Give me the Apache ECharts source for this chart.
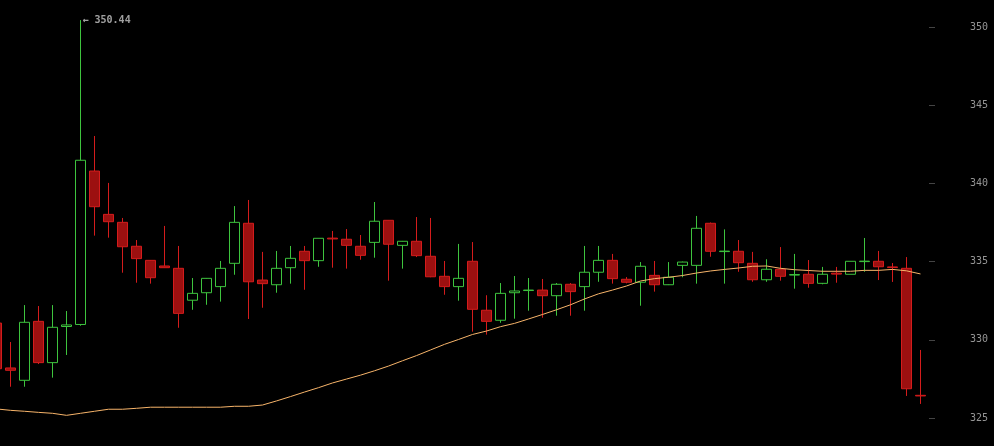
<!DOCTYPE html>
<html>
<head>
<meta charset="utf-8">
<script src="https://cdn.jsdelivr.net/npm/echarts@6/dist/echarts.min.js"></script>
<style>
html,body{margin:0;padding:0;background:#000;overflow:hidden;width:994px;height:446px;}
#wrap{position:absolute;left:0;top:0;width:994px;height:446px;overflow:hidden;}
#chart{position:absolute;left:-11px;top:0;width:1005px;height:446px;}
</style>
</head>
<body>
<div id="wrap"><div id="chart"></div></div>
<script>
// Candle values (one per period)
const openVals  = [331.07,328.20,327.41,331.18,328.54,330.85,330.98,340.79,338.02,337.51,335.98,335.08,334.72,334.57,332.53,333.01,333.40,334.89,337.45,333.82,333.52,334.61,335.66,335.06,336.50,336.43,335.98,336.23,337.64,336.04,336.30,335.34,334.06,333.40,335.02,331.89,331.25,333.01,333.15,333.18,332.82,333.55,333.40,334.32,335.08,333.87,333.68,334.12,333.52,334.76,334.76,337.45,335.64,335.66,334.89,333.84,334.51,334.14,334.19,333.61,334.26,334.19,335.00,335.02,334.66,334.57,326.45];
const closeVals = [328.15,328.05,331.12,328.54,330.80,330.95,341.48,338.51,337.55,335.95,335.19,333.97,334.61,331.69,332.97,333.93,334.57,337.51,333.71,333.59,334.57,335.21,335.06,336.49,336.45,336.04,335.40,337.58,336.11,336.30,335.38,334.03,333.40,333.93,331.95,331.18,332.97,333.12,333.18,332.82,333.55,333.08,334.32,335.08,333.91,333.68,334.70,333.52,334.00,334.97,337.13,335.66,335.67,334.93,333.84,334.51,334.06,334.17,333.61,334.19,334.20,335.02,335.03,334.67,334.62,326.87,326.41];
const lowVals   = [327.80,327.00,327.00,328.45,327.58,329.03,330.90,336.66,336.53,334.29,333.65,333.59,334.60,330.77,331.92,332.24,332.44,334.16,331.33,332.05,333.01,333.59,333.20,334.67,334.61,334.55,335.12,335.25,333.78,334.55,335.29,334.00,332.88,332.50,330.52,330.33,331.09,331.35,331.86,331.41,331.54,331.54,331.86,333.71,333.59,333.61,332.18,333.08,333.50,334.00,333.59,335.31,333.59,334.35,333.71,333.71,333.78,333.27,333.33,333.55,333.65,334.19,334.35,333.82,333.70,326.41,325.90];
const highVals  = [331.30,329.86,332.22,332.16,332.22,331.84,350.44,343.03,340.03,337.79,336.38,335.10,337.28,336.00,333.95,333.95,335.04,338.55,338.94,335.62,335.68,336.00,336.00,336.49,336.96,337.08,336.70,338.81,337.66,336.32,337.85,337.79,335.04,336.13,336.25,332.85,333.63,334.08,333.95,333.89,333.63,333.63,336.00,336.00,335.49,334.01,334.97,335.04,334.97,335.00,337.92,337.50,337.06,336.38,335.62,335.15,335.93,335.49,335.10,334.66,334.66,335.02,336.51,335.68,334.91,335.29,329.35];
// Moving-average line
const maVals    = [325.58,325.49,325.43,325.36,325.30,325.17,325.30,325.43,325.56,325.56,325.62,325.69,325.69,325.69,325.69,325.69,325.69,325.75,325.75,325.83,326.09,326.37,326.66,326.94,327.24,327.49,327.74,328.02,328.32,328.66,328.99,329.35,329.71,330.02,330.34,330.56,330.84,331.05,331.33,331.62,331.92,332.24,332.61,332.94,333.18,333.44,333.76,333.91,334.00,334.11,334.27,334.40,334.50,334.59,334.70,334.72,334.57,334.48,334.43,334.38,334.38,334.38,334.44,334.44,334.50,334.41,334.21];
// Y axis ticks
const yTicks = [325, 330, 335, 340, 345, 350];

const categories = openVals.map((_, i) => String(i));
const candleData = openVals.map((o, i) => [o, closeVals[i], lowVals[i], highVals[i]]);

let maxIdx = 0;
highVals.forEach((h, i) => { if (h > highVals[maxIdx]) maxIdx = i; });
const maxVal = highVals[maxIdx];

const chart = echarts.init(document.getElementById('chart'), null, {renderer: 'canvas'});
chart.setOption({
  backgroundColor: '#000',
  animation: false,
  grid: { left: 0.5, right: 66.5, top: 27, bottom: 28, containLabel: false },
  xAxis: {
    type: 'category',
    data: categories,
    boundaryGap: true,
    show: false
  },
  yAxis: {
    type: 'value',
    position: 'right',
    min: yTicks[0],
    max: yTicks[yTicks.length - 1],
    interval: 5,
    offset: 1.5,
    axisLine: { show: false },
    axisTick: { show: true, length: 6, lineStyle: { color: '#444', width: 1 } },
    splitLine: { show: false },
    axisLabel: {
      show: true,
      margin: 41,
      color: '#959595',
      fontFamily: 'DejaVu Sans Mono',
      fontSize: 10,
      align: 'left',
      showMinLabel: true,
      showMaxLabel: true
    }
  },
  series: [
    {
      type: 'candlestick',
      data: candleData,
      barWidth: 10,
      clip: false,
      itemStyle: {
        color: '#000',
        color0: '#9c1010',
        borderColor: '#3ec43e',
        borderColor0: '#d41c1c',
        borderWidth: 1
      }
    },
    {
      type: 'line',
      data: maVals,
      showSymbol: false,
      smooth: false,
      clip: false,
      lineStyle: { color: '#f7b46a', width: 1 },
      z: 3
    },
    {
      type: 'scatter',
      data: [[maxIdx, maxVal]],
      symbolSize: 1,
      itemStyle: { color: 'rgba(0,0,0,0)' },
      clip: false,
      label: {
        show: true,
        position: 'right',
        distance: 1.5,
        formatter: () => '\u2190 ' + maxVal.toFixed(2),
        color: '#c8c8c8',
        fontFamily: 'DejaVu Sans Mono',
        fontWeight: 'bold',
        fontSize: 10
      }
    }
  ]
});
</script>
</body>
</html>
